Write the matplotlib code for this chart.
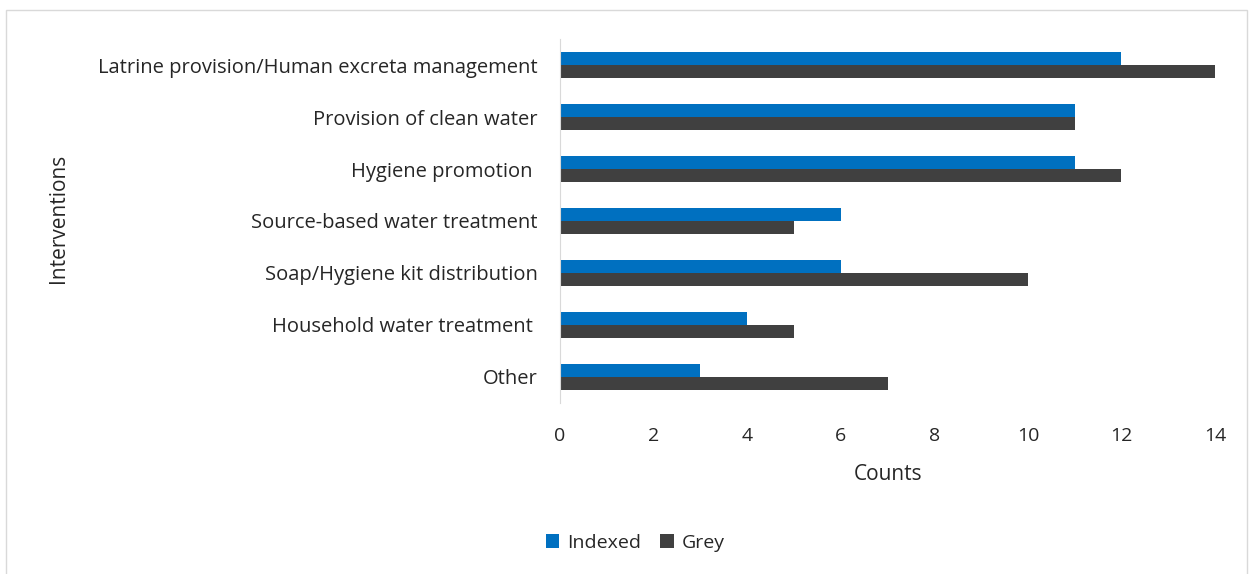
import numpy as np
import matplotlib.pyplot as plt
from matplotlib.patches import Rectangle

# data (top to bottom)
interventions = ['Latrine provision/Human excreta management',
                 'Provision of clean water',
                 'Hygiene promotion ',
                 'Source-based water treatment',
                 'Soap/Hygiene kit distribution',
                 'Household water treatment ',
                 'Other']
indexed = [12, 11, 11, 6, 6, 4, 3]
grey = [14, 11, 12, 5, 10, 5, 7]
xticks = [0, 2, 4, 6, 8, 10, 12, 14]

plt.rcParams['font.family'] = ['Open Sans', 'DejaVu Sans']
txt = '#262626'

fig = plt.figure(figsize=(12.53, 5.74), dpi=100)
ax = fig.add_axes([0.447, 0.298, 0.5227, 0.634])

n = len(interventions)
y = np.arange(n)[::-1]
h = 0.25
ax.barh(y + h / 2, indexed, height=h, color='#0070C0', label='Indexed')
ax.barh(y - h / 2, grey, height=h, color='#404040', label='Grey')

ax.set_xlim(0, 14)
ax.set_ylim(-0.5, n - 0.5)
ax.set_yticks(y)
ax.set_yticklabels(interventions, fontsize=14.5, color=txt)
ax.set_xticks(xticks)
ax.set_xticklabels([str(v) for v in xticks], fontsize=14, color=txt)
ax.tick_params(length=0)
ax.tick_params(axis='y', pad=16)
ax.tick_params(axis='x', pad=17)
for s in ['top', 'right', 'bottom']:
    ax.spines[s].set_visible(False)
ax.spines['left'].set_color('#d9d9d9')

ax.set_xlabel('Counts', fontsize=15, color=txt, labelpad=14)
fig.text(0.047, 0.62, 'Interventions', rotation=90, fontsize=15, color=txt,
         ha='center', va='center')

fig.legend(loc='center', bbox_to_anchor=(0.507, 0.054), ncol=2, frameon=False,
           fontsize=14, handlelength=0.7, handleheight=0.7, columnspacing=1.0,
           handletextpad=0.4, labelcolor=txt)

# outer chart border
fig.patches.append(Rectangle((0.005, -0.01), 0.99, 0.993, transform=fig.transFigure,
                             fill=False, edgecolor='#d9d9d9', linewidth=1))

fig.savefig('out.png', dpi=100)
